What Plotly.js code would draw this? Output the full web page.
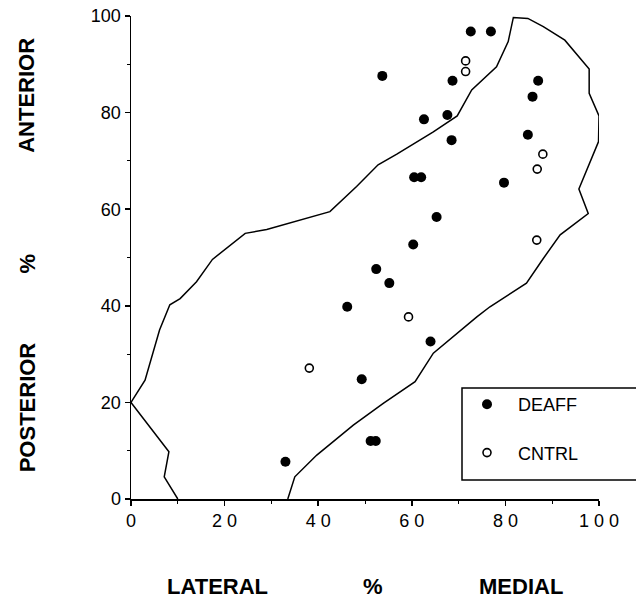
<!DOCTYPE html>
<html>
<head>
<meta charset="utf-8">
<script src="https://cdn.plot.ly/plotly-3.0.1.min.js"></script>
<style>html,body{margin:0;padding:0;background:#fff;}#chart{width:636px;height:599px;}</style>
</head>
<body>
<div id="chart"></div>
<script>
// Outline of the region (lateral % vs anterior %)
const boundaryX = [10, 7.1, 8.1, 0, 3, 6.1, 8.3, 10.5, 14, 17.4, 24.4, 29, 42.5, 48.2, 52.8, 56.8, 64.6, 69.7, 72.8, 78.1, 80.6, 81.7, 84.8, 88.1, 92.7, 97.9, 97.9, 100, 99.9, 95.7, 97.7, 91.7, 88.1, 84.5, 76.7, 73.9, 64.6, 60.7, 53.9, 47.5, 39.7, 35, 33.5];
const boundaryY = [0, 4.6, 9.8, 20, 24.6, 35, 40.2, 41.5, 45, 49.6, 55, 55.8, 59.5, 64.7, 69.2, 71.4, 76, 79.3, 84.7, 89.5, 94.7, 99.7, 99.5, 97.8, 95, 89, 84, 79.3, 74, 64.2, 59.1, 54.7, 49.8, 44.7, 39.8, 37.7, 30.2, 24.3, 19.8, 15.3, 9.1, 4.6, 0];

// DEAFF (filled)
const deaffX = [72.6, 76.9, 53.7, 68.7, 87.0, 85.8, 62.6, 67.6, 68.5, 84.8, 60.5, 62.0, 79.7, 65.3, 60.3, 52.4, 55.2, 46.2, 64.0, 49.3, 51.2, 52.3, 33.0];
const deaffY = [96.8, 96.8, 87.6, 86.6, 86.6, 83.3, 78.6, 79.5, 74.3, 75.4, 66.6, 66.6, 65.5, 58.4, 52.7, 47.6, 44.7, 39.8, 32.6, 24.8, 12.0, 12.0, 7.7];

// CNTRL (open)
const cntrlX = [71.5, 71.5, 88.0, 86.8, 86.7, 59.3, 38.1];
const cntrlY = [90.7, 88.5, 71.4, 68.3, 53.6, 37.7, 27.1];

const xTickVals = [0, 20, 40, 60, 80, 100];
const xTickText = ['0', '2 0', '4 0', '6 0', '8 0', '1 0 0'];
const yTickVals = [0, 20, 40, 60, 80, 100];
const yTickText = ['0', '20', '40', '60', '80', '100'];

const FONT = 'Liberation Sans, Arial, Helvetica, sans-serif';

const traces = [
  {
    x: boundaryX, y: boundaryY, type: 'scatter', mode: 'lines',
    line: {color: '#000', width: 1.5}, showlegend: false, hoverinfo: 'skip'
  },
  {
    x: deaffX, y: deaffY, type: 'scatter', mode: 'markers', name: 'DEAFF',
    legendgroup: 'a',
    marker: {symbol: 'circle', size: 10, color: '#000', line: {width: 0}}
  },
  {
    x: cntrlX, y: cntrlY, type: 'scatter', mode: 'markers', name: 'CNTRL',
    legendgroup: 'b',
    marker: {symbol: 'circle-open', size: 8, color: '#000', line: {width: 1.6, color: '#000'}}
  }
];

const axisCommon = {
  range: [0, 100], showgrid: false, zeroline: false,
  showline: true, linecolor: '#000', linewidth: 1.5,
  ticks: 'outside', ticklen: 5, tickwidth: 1.5, tickcolor: '#000',
  tickmode: 'array',
  tickfont: {family: FONT, size: 18, color: '#000'},
  minor: {tickmode: 'linear', tick0: 0, dtick: 10, ticks: 'outside', ticklen: 3, tickwidth: 1, tickcolor: '#000'},
  fixedrange: true
};

const titleFont = {family: FONT, size: 22, color: '#000', weight: 'bold'};

// legend box geometry (paper fractions)
const boxX0 = (462 - 131) / 468, boxX1 = (645 - 131) / 468;
const boxY0 = (499 - 480) / 483, boxY1 = (499 - 388) / 483;

const layout = {
  width: 636, height: 599,
  margin: {l: 131, r: 37, t: 16, b: 100, autoexpand: false},
  paper_bgcolor: '#fff', plot_bgcolor: '#fff',
  showlegend: true,
  xaxis: Object.assign({}, axisCommon, {tickvals: xTickVals, ticktext: xTickText}),
  yaxis: Object.assign({}, axisCommon, {tickvals: yTickVals, ticktext: yTickText}),
  legend: {
    x: (456 - 131) / 468, y: (499 - 386) / 483, xanchor: 'left', yanchor: 'top',
    bgcolor: 'rgba(0,0,0,0)', borderwidth: 0,
    font: {family: FONT, size: 18, color: '#000'},
    itemwidth: 52,
    tracegroupgap: 22, itemclick: false, itemdoubleclick: false
  },
  shapes: [
    {type: 'rect', xref: 'paper', yref: 'paper', x0: boxX0, x1: boxX1, y0: boxY0, y1: boxY1,
     line: {color: '#000', width: 1.5}, fillcolor: '#fff', layer: 'above'}
  ],
  annotations: [
    {text: 'ANTERIOR', xref: 'paper', yref: 'paper', x: -0.222, y: 0.835, textangle: -90, showarrow: false, font: titleFont, xanchor: 'center', yanchor: 'middle'},
    {text: '%', xref: 'paper', yref: 'paper', x: -0.222, y: 0.488, textangle: -90, showarrow: false, font: titleFont, xanchor: 'center', yanchor: 'middle'},
    {text: 'POSTERIOR', xref: 'paper', yref: 'paper', x: -0.222, y: 0.19, textangle: -90, showarrow: false, font: titleFont, xanchor: 'center', yanchor: 'middle'},
    {text: 'LATERAL', xref: 'paper', yref: 'paper', x: (217 - 131) / 468, y: -(586 - 499) / 483, showarrow: false, font: titleFont, xanchor: 'center', yanchor: 'middle'},
    {text: '%', xref: 'paper', yref: 'paper', x: (373 - 131) / 468, y: -(586 - 499) / 483, showarrow: false, font: titleFont, xanchor: 'center', yanchor: 'middle'},
    {text: 'MEDIAL', xref: 'paper', yref: 'paper', x: (521 - 131) / 468, y: -(586 - 499) / 483, showarrow: false, font: titleFont, xanchor: 'center', yanchor: 'middle'}
  ]
};

Plotly.newPlot('chart', traces, layout, {displayModeBar: false, staticPlot: true});
</script>
</body>
</html>
